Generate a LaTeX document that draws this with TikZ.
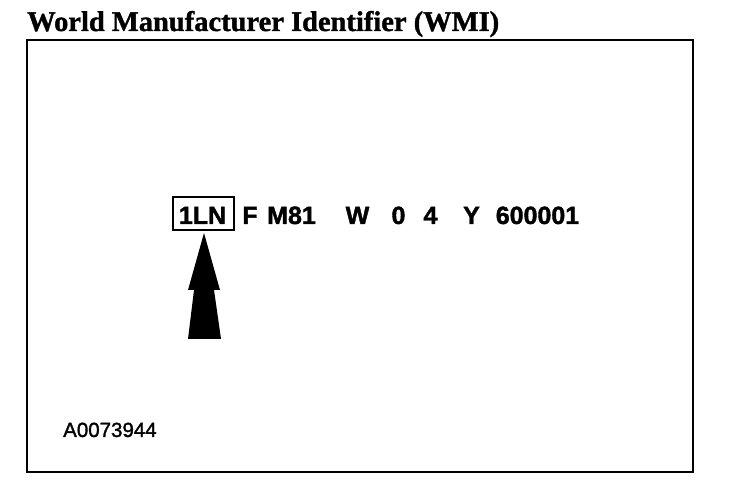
\documentclass[tikz,border=0pt]{standalone}
\usepackage{fontspec}
\newfontfamily\titlefont[FakeBold=1.2]{Liberation Serif Bold}
\newfontfamily\vinfont[FakeBold=1.5]{Liberation Sans Bold}
\newfontfamily\codefont[FakeBold=1.5]{Liberation Sans}
\begin{document}
\begin{tikzpicture}[x=1pt,y=1pt,
  vin/.style={font=\vinfont\fontsize{25}{25}\selectfont, inner sep=0pt, anchor=base},
  frame/.style={line width=2pt}]
\useasboundingbox (0,0) rectangle (736,492);
\node[anchor=base west, inner sep=0pt, font=\titlefont\fontsize{28.5}{28.5}\selectfont] (title) at (27,461) {World Manufacturer Identifier (WMI)};
\draw[frame] (27,20) rectangle (693,452);
\node[vin] (wmi) at (202.5,268) {1LN};
\draw[line width=2pt] (173,262) rectangle (234,295);
\node[vin] (f) at (250,268) {F};
\node[vin] (m) at (291.5,268) {M81};
\node[vin] (w) at (357.5,268) {W};
\node[vin] (z) at (398.5,268) {0};
\node[vin] (four) at (430.5,268) {4};
\node[vin] (y) at (471.5,268) {Y};
\node[vin] (num) at (537.5,268) {600001};
\fill (204,259) -- (220,202) -- (188,202) -- cycle;
\fill (194,202) -- (214,202) -- (221,153) -- (188,153) -- cycle;
\node[anchor=base west, inner sep=0pt, font=\codefont\fontsize{20.5}{20.5}\selectfont] (code) at (63,55) {A0073944};
\end{tikzpicture}
\end{document}
